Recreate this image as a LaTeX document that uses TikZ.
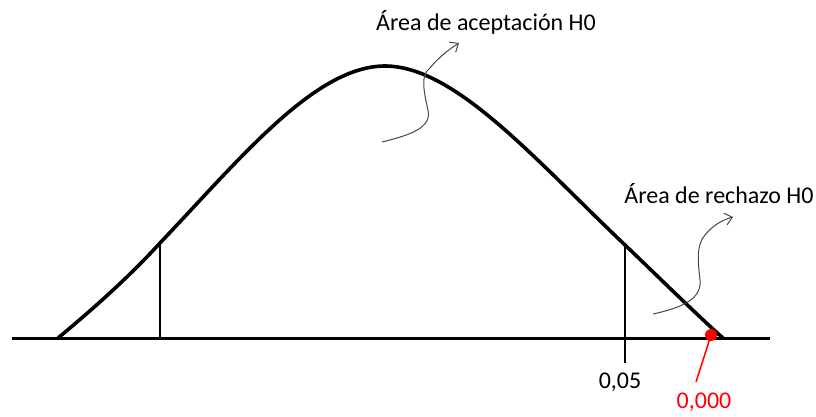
\documentclass[tikz,border=0pt]{standalone}
\usepackage{fontspec}
\setmainfont{Carlito}
\usetikzlibrary{arrows.meta}
\begin{document}
\begin{tikzpicture}[x=1pt,y=-1pt,
  curve/.style={line width=3.6pt,line cap=round,line join=round},
  axisline/.style={line width=3pt},
  tick/.style={line width=1.8pt},
  wavy/.style={line width=1pt,draw=black!72,-{Straight Barb[length=7pt,width=12pt]}},
  lbl/.style={font=\fontsize{24}{27}\selectfont,inner sep=0pt}]
\useasboundingbox (0,0) rectangle (816,416);
% axis
\coordinate (axL) at (12,338);
\coordinate (axR) at (770,338);
\draw[axisline] (axL) -- (axR);
% curve
\coordinate (c0) at (58,338);
\coordinate (c1) at (160,243);
\coordinate (pk) at (385,66);
\coordinate (c2) at (625,245);
\coordinate (c3) at (723,338);
\draw[curve] (c0) .. controls (93,309) and (130,276) .. (c1)
  .. controls (240,159) and (315,66) .. (pk)
  .. controls (455,66) and (535,159.5) .. (c2)
  .. controls (655,273.5) and (700,318) .. (c3);
% verticals
\coordinate (t1) at (160,338);
\coordinate (t2) at (625,363);
\draw[tick] (c1) -- (t1);
\draw[tick] (c2) -- (t2);
% labels
\node[lbl,anchor=base] (acc) at (486,30) {Área de aceptación H0};
\node[lbl,anchor=base] (rej) at (719,203) {Área de rechazo H0};
\node[lbl,anchor=base] (v05) at (620,388) {0,05};
\node[lbl,anchor=base,text=red] (v000) at (704,408) {0,000};
% wavy arrows
\coordinate (a0) at (382,142);
\coordinate (a1) at (459,43);
\draw[wavy] (a0) .. controls (410,135) and (432,128) .. (428,110)
  .. controls (424,92) and (420,75) .. (430,68)
  .. controls (438,58) and (448,50) .. (a1);
\coordinate (b0) at (653,314);
\coordinate (b1) at (733,217);
\draw[wavy] (b0) .. controls (680,308) and (702,300) .. (700,280)
  .. controls (698,262) and (696,245) .. (705,235)
  .. controls (712,226) and (722,220) .. (b1);
% red point
\node[circle,fill=red,inner sep=0pt,minimum size=12pt] (pt) at (711,335) {};
\coordinate (r1) at (696,382);
\draw[red,line width=1.5pt] (pt.center) -- (r1);
\end{tikzpicture}
\end{document}
